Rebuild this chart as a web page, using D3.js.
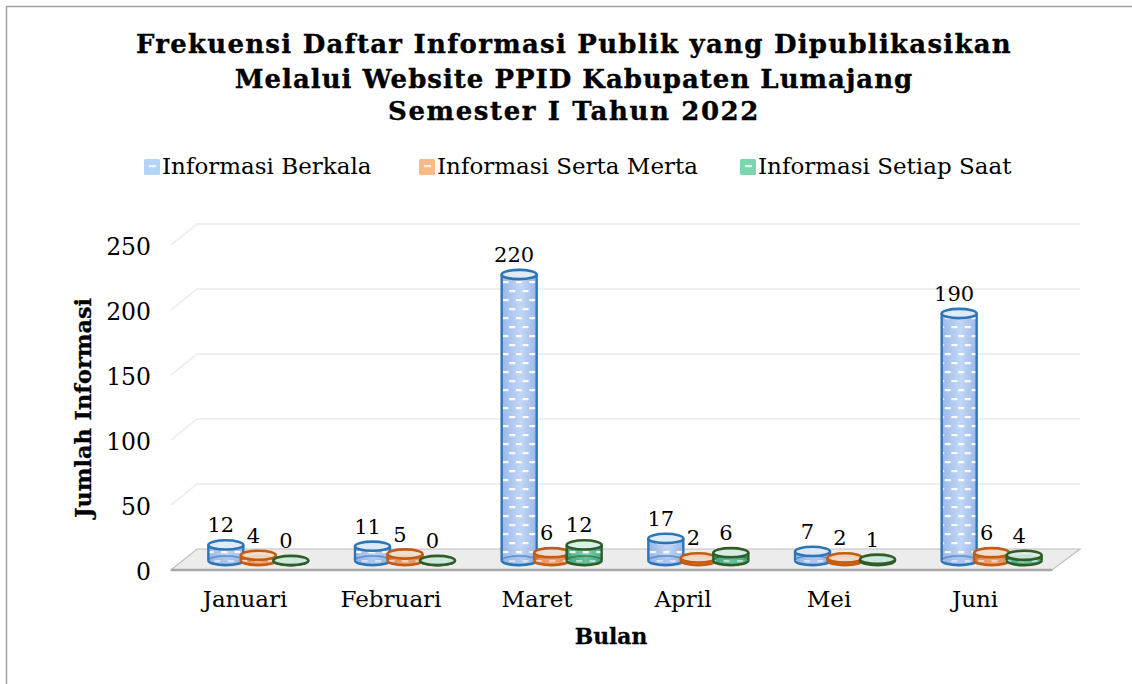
<!DOCTYPE html>
<html><head><meta charset="utf-8">
<script src="https://cdn.jsdelivr.net/npm/d3@7"></script>
<style>html,body{margin:0;padding:0;background:#fff}svg{display:block}text{font-family:"DejaVu Serif",serif;fill:#000}</style>
</head><body><svg id="c" width="1132" height="684"></svg>
<script>
const months=["Januari","Februari","Maret","April","Mei","Juni"];
const seriesNames=["Informasi Berkala","Informasi Serta Merta","Informasi Setiap Saat"];
const berkala=[12,11,220,17,7,190];
const sertaMerta=[4,5,6,2,2,6];
const setiapSaat=[0,0,12,6,1,4];
const yTicks=[0,50,100,150,200,250];
const titleLines=["Frekuensi Daftar Informasi Publik yang Dipublikasikan","Melalui Website PPID Kabupaten Lumajang","Semester I Tahun 2022"];

const svg=d3.select("#c");
const W=1132,H=684;
const values=[berkala,sertaMerta,setiapSaat];
const styles=[
 {stroke:"#2e75b6",a:"#8fb0e6",b:"#bcd3f5",top:"#dbe7f8",sw:"#b4d4fa"},
 {stroke:"#c55a11",a:"#dd8148",b:"#f2b78c",top:"#f3dcc9",sw:"#fbb983"},
 {stroke:"#2f5c27",a:"#2fa57a",b:"#7bcfac",top:"#d3ece0",sw:"#79d6ae"}];

const frontY=d3.scaleLinear().domain([0,250]).range([570,245]);
const backY=d3.scaleLinear().domain([0,250]).range([549,224]);
const midY=d3.scaleLinear().domain([0,250]).range([560.5,235.5]);
const xBand=d3.scaleBand().domain(months).range([185,1065]);
const bandW=xBand.bandwidth();
const offs=[-32.5,0,32.5];
const rx=17.5,ry=4.6;

svg.append("path").attr("d",`M6.5,${H}V6.5H${W}`).attr("fill","none").attr("stroke","#a3a3a3").attr("stroke-width",1.5);

const defs=svg.append("defs");
styles.forEach((s,i)=>{
 const g=defs.append("linearGradient").attr("id","g"+i);
 g.append("stop").attr("offset","0").attr("stop-color",s.a);
 g.append("stop").attr("offset","0.55").attr("stop-color",s.b);
 g.append("stop").attr("offset","1").attr("stop-color",s.a);
 const p=defs.append("pattern").attr("id","p"+i).attr("patternUnits","userSpaceOnUse").attr("width",13.4).attr("height",18);
 [[0,2],[6.7,11]].forEach(d=>p.append("rect").attr("x",d[0]).attr("y",d[1]).attr("width",6).attr("height",2.2).attr("fill","#fff").attr("opacity",.95));
});

const xL=171,xR=1052,dx=26,dxR=28;
const grid=svg.append("g");
yTicks.filter(t=>t>0).forEach(t=>{
 grid.append("path").attr("d",`M${xL},${frontY(t)}L${xL+dx},${backY(t)}H${xR+dxR}`)
  .attr("fill","none").attr("stroke","#efefef").attr("stroke-width",2.2);
});
svg.append("path").attr("d",`M${xL},${frontY(0)}L${xL+dx},${backY(0)}H${xR+dxR}L${xR},${frontY(0)}Z`)
 .attr("fill","#ececec").attr("stroke","#bdbdbd").attr("stroke-width",1.2);
svg.append("path").attr("d",`M${xL},${frontY(0)}H${xR}`).attr("stroke","#a6a6a6").attr("stroke-width",2.5);

const yAxis=d3.axisLeft(frontY).tickValues(yTicks).tickSize(0).tickPadding(0);
const ya=svg.append("g").attr("transform","translate(151,1.5)").call(yAxis);
ya.select(".domain").remove();
ya.selectAll("text").style("font-family",'"DejaVu Serif",serif').style("font-size","23.5px").attr("fill","#000");

const xAxis=d3.axisBottom(d3.scaleBand().domain(months).range([172,1048])).tickSize(0).tickPadding(18);
const xa=svg.append("g").attr("transform","translate(0,580)").call(xAxis);
xa.select(".domain").remove();
xa.selectAll("text").style("font-family",'"DejaVu Serif",serif').style("font-size","23px").attr("fill","#000").attr("dy",0).attr("y",27);

const marks=svg.append("g");
months.forEach((m,i)=>{
 const cx0=xBand(m)+bandW/2;
 values.forEach((vals,k)=>{
  const v=vals[i],s=styles[k],cx=cx0+offs[k];
  const yb=midY(0),yt=midY(v);
  const g=marks.append("g");
  const body=`M${cx-rx},${yt}V${yb}A${rx},${ry} 0 0 0 ${cx+rx},${yb}V${yt}A${rx},${ry} 0 0 1 ${cx-rx},${yt}Z`;
  g.append("path").attr("d",body).attr("fill",`url(#g${k})`).attr("opacity",.9);
  if(v>0) g.append("path").attr("d",body).attr("fill",`url(#p${k})`);
  g.append("ellipse").attr("cx",cx).attr("cy",yb).attr("rx",rx).attr("ry",ry).attr("fill",s.a).attr("fill-opacity",.35).attr("stroke",s.stroke).attr("stroke-width",1.6).attr("stroke-opacity",.6);
  g.append("path").attr("d",`M${cx-rx},${yt}V${yb}M${cx+rx},${yt}V${yb}`).attr("stroke",s.stroke).attr("stroke-width",2.4);
  g.append("path").attr("d",`M${cx-rx},${yb}A${rx},${ry} 0 0 0 ${cx+rx},${yb}`).attr("fill","none").attr("stroke",s.stroke).attr("stroke-width",2.6);
  g.append("ellipse").attr("cx",cx).attr("cy",yt).attr("rx",rx).attr("ry",ry).attr("fill",s.top).attr("fill-opacity",.85).attr("stroke",s.stroke).attr("stroke-width",2.6);
  marks.append("text").attr("x",cx-5).attr("y",yt-12.5).attr("text-anchor","middle").attr("font-size",21).text(v);
 });
});

const titleSpacing=[1.25,1.0,1.6];
titleLines.forEach((t,i)=>{
 svg.append("text").attr("x",574).attr("y",[53,88,120][i]).attr("text-anchor","middle")
  .attr("font-weight",700).attr("font-size",26).attr("letter-spacing",titleSpacing[i])
  .style("stroke","#000").style("stroke-width",.35).text(t);
});

const legX=[144,419,740];
seriesNames.forEach((n,i)=>{
 svg.append("rect").attr("x",legX[i]).attr("y",159).attr("width",16).attr("height",16).attr("rx",1.5).attr("fill",styles[i].sw);
 svg.append("rect").attr("x",legX[i]+5).attr("y",165).attr("width",7).attr("height",2.2).attr("fill","#fff").attr("opacity",.8);
 svg.append("text").attr("x",legX[i]+18).attr("y",174).attr("font-size",23).text(n);
});

svg.append("text").attr("transform","translate(91,408) rotate(-90)").attr("text-anchor","middle").attr("font-weight",700).attr("font-size",22.4).style("stroke","#000").style("stroke-width",.3).text("Jumlah Informasi");
svg.append("text").attr("x",611).attr("y",644).attr("text-anchor","middle").attr("font-weight",700).attr("font-size",21.8).style("stroke","#000").style("stroke-width",.3).text("Bulan");
</script></body></html>
